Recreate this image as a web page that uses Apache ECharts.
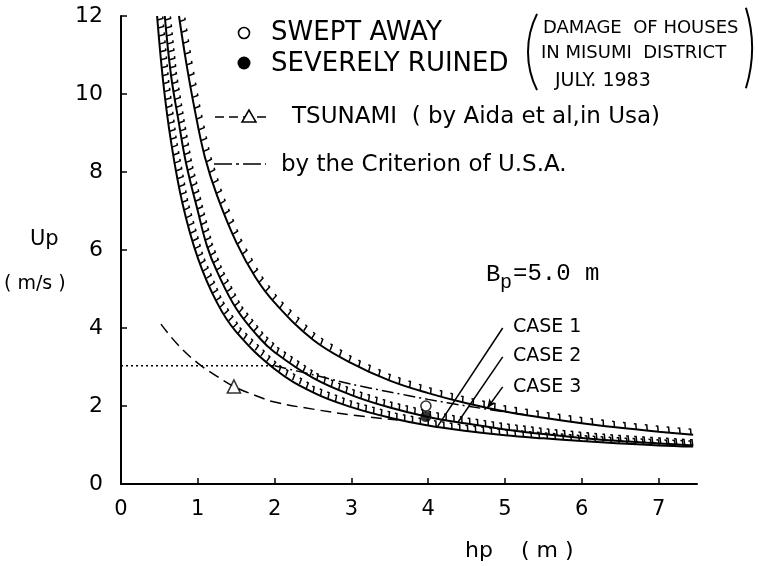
<!DOCTYPE html>
<html>
<head>
<meta charset="utf-8">
<script src="https://cdn.jsdelivr.net/npm/echarts@6/dist/echarts.min.js"></script>
<style>html,body{margin:0;background:#fff}#chart{width:759px;height:566px}</style>
</head>
<body>
<div id="chart"></div>
<script>
'use strict';
// hp (m) -> Up (m/s)
const case1 = [[0.47,12],[0.55,10.3],[0.65,8.8],[0.8,7.2],[1.0,5.8],[1.25,4.65],[1.5,3.9],[2.0,2.95],[2.5,2.35],[3.0,1.97],[3.5,1.7],[4.0,1.5],[4.5,1.36],[5.0,1.25],[5.5,1.17],[6.0,1.1],[6.5,1.04],[7.0,0.99],[7.45,0.96]];
const case2 = [[0.57,12],[0.65,10.5],[0.75,9.3],[0.85,8.2],[1.0,7.0],[1.12,6.1],[1.25,5.45],[1.5,4.5],[1.8,3.75],[2.0,3.38],[2.5,2.72],[3.0,2.28],[3.5,1.96],[4.0,1.72],[4.5,1.55],[5.0,1.4],[5.5,1.28],[6.0,1.18],[6.5,1.1],[7.0,1.04],[7.45,0.99]];
const case3 = [[0.755,12],[0.85,10.8],[0.96,9.6],[1.09,8.4],[1.25,7.4],[1.5,6.2],[1.75,5.3],[2.0,4.65],[2.5,3.7],[3.0,3.1],[3.5,2.65],[4.0,2.33],[4.5,2.07],[5.0,1.86],[5.5,1.7],[6.0,1.56],[6.5,1.44],[7.0,1.34],[7.45,1.26]];
const tsunami = [[0.52,4.1],[0.75,3.55],[1.0,3.1],[1.25,2.76],[1.47,2.5],[1.75,2.27],[2.0,2.1],[2.5,1.92],[3.0,1.77],[3.6,1.64]];
const tsunamiMark = [[1.47,2.5]];
const usaLevel = [[0,3.03],[2.0,3.03]];
const usaCurve = [[2.0,3.03],[2.5,2.8],[3.0,2.56],[3.5,2.36],[4.0,2.17],[4.5,2.0],[5.0,1.85],[5.25,1.78]];
const sweptAway = [[3.97,2.0]];
const severelyRuined = [[3.97,1.73]];
const xTicks = [0,1,2,3,4,5,6,7];
const yTicks = [0,2,4,6,8,10,12];
// pointer lines from the CASE labels to the curves
const casePointers = [
    [[4.97,4.0],[4.11,1.44]],
    [[4.97,3.26],[4.39,1.59]],
    [[4.97,2.49],[4.77,1.95]]
];

const FONT = 'DejaVu Sans';
const hatchCurves = [case1, case2, case3];
const hatchStep = [8, 8, 11];

// short hooked ticks on the upper/right side of each curve
const renderHatch = (params, api) => {
    const idx = api.value(0);
    const pts = hatchCurves[idx].map(p => api.coord(p));
    const step = hatchStep[idx];
    const children = [];
    let carry = step / 2;
    for (let i = 0; i < pts.length - 1; i++) {
        const [x0, y0] = pts[i];
        const [x1, y1] = pts[i + 1];
        const len = Math.hypot(x1 - x0, y1 - y0);
        const dx = (x1 - x0) / len, dy = (y1 - y0) / len;
        const nx = dy, ny = -dx;
        let s = carry;
        while (s < len) {
            const px = x0 + dx * s, py = y0 + dy * s;
            children.push({
                type: 'polyline',
                shape: {points: [[px, py], [px + nx * 5.5 - dx, py + ny * 5.5 - dy], [px + nx * 5.5 - dx * 3, py + ny * 5.5 - dy * 3]]},
                style: {stroke: '#000', lineWidth: 1.5, fill: null}
            });
            s += step;
        }
        carry = s - len;
    }
    return {type: 'group', children};
};

const solid = (name, data) => ({
    name, type: 'line', data, smooth: 0.4, symbol: 'none',
    lineStyle: {color: '#000', width: 2}, z: 3
});

const txt = (text, x, y, size, extra) => ({
    type: 'text', x, y,
    style: Object.assign({text, fill: '#000', font: `${size}px "${FONT}"`, textVerticalAlign: 'middle'}, extra || {})
});

const chart = echarts.init(document.getElementById('chart'));
chart.setOption({
    animation: false,
    backgroundColor: '#fff',
    grid: {left: 121, right: 62, top: 16, bottom: 82},
    xAxis: {
        type: 'value', min: 0, max: 7.5, interval: 1,
        axisLine: {lineStyle: {color: '#000', width: 2}},
        axisTick: {inside: true, length: 6, lineStyle: {color: '#000', width: 1.5}, customValues: xTicks.slice(1)},
        axisLabel: {color: '#000', fontSize: 21, fontFamily: FONT, margin: 15, customValues: xTicks},
        splitLine: {show: false}
    },
    yAxis: {
        type: 'value', min: 0, max: 12, interval: 2,
        axisLine: {show: true, lineStyle: {color: '#000', width: 2}},
        axisTick: {show: true, inside: true, length: 6, lineStyle: {color: '#000', width: 1.5}, customValues: yTicks.slice(1)},
        axisLabel: {color: '#000', fontSize: 22, fontFamily: FONT, margin: 18, customValues: yTicks},
        splitLine: {show: false}
    },
    series: [
        Object.assign(solid('CASE 1', case1), {
            markLine: {
                silent: true, symbol: ['none', 'none'],
                label: {show: false},
                lineStyle: {color: '#000', width: 1.5, type: 'solid'},
                data: [
                    [{coord: casePointers[0][0]}, {coord: casePointers[0][1]}],
                    [{coord: casePointers[1][0]}, {coord: casePointers[1][1]}],
                    [{coord: casePointers[2][0]}, {coord: casePointers[2][1], symbol: 'arrow', symbolSize: [6, 9]}]
                ]
            }
        }),
        solid('CASE 2', case2),
        solid('CASE 3', case3),
        {
            type: 'custom', name: 'hatch', renderItem: renderHatch, clip: true,
            data: [[0], [1], [2]], z: 3, silent: true
        },
        {
            name: 'TSUNAMI', type: 'line', data: tsunami, smooth: 0.4, symbol: 'none',
            lineStyle: {color: '#000', width: 1.5, type: [11, 6]}
        },
        {
            name: 'TSUNAMI mark', type: 'scatter', data: tsunamiMark, symbol: 'triangle', symbolSize: 13,
            itemStyle: {color: '#fff', borderColor: '#000', borderWidth: 1.6}, z: 5
        },
        {
            name: 'level', type: 'line', data: usaLevel, symbol: 'none',
            lineStyle: {color: '#000', width: 1.5, type: [2, 3]}
        },
        {
            name: 'U.S.A.', type: 'line', data: usaCurve, smooth: 0.3, symbol: 'none',
            lineStyle: {color: '#000', width: 1.5, type: [12, 4, 2, 4]}
        },
        {
            name: 'SWEPT AWAY', type: 'scatter', data: sweptAway, symbol: 'circle', symbolSize: 10,
            itemStyle: {color: '#fff', borderColor: '#000', borderWidth: 1.6}, z: 6
        },
        {
            name: 'SEVERELY RUINED', type: 'scatter', data: severelyRuined, symbol: 'circle', symbolSize: 11,
            itemStyle: {color: '#000'}, z: 6
        }
    ],
    graphic: [
        // axis names
        txt('Up', 30, 240, 21),
        txt('( m/s )', 4, 284, 19),
        txt('hp    ( m )', 465, 551, 22),
        // legend: markers
        {type: 'circle', shape: {cx: 244, cy: 33, r: 5.5}, style: {fill: '#fff', stroke: '#000', lineWidth: 1.6}},
        {type: 'circle', shape: {cx: 244, cy: 63, r: 6.5}, style: {fill: '#000'}},
        txt('SWEPT AWAY', 271, 33, 26),
        txt('SEVERELY RUINED', 271, 64, 26),
        // bracketed note
        {type: 'arc', shape: {cx: 613, cy: 52, r: 85, startAngle: Math.PI - 0.465, endAngle: Math.PI + 0.465}, style: {stroke: '#000', lineWidth: 2, fill: null}},
        {type: 'arc', shape: {cx: 616, cy: 48, r: 136, startAngle: -0.3, endAngle: 0.3}, style: {stroke: '#000', lineWidth: 2, fill: null}},
        txt('DAMAGE  OF HOUSES', 543, 28, 18),
        txt('IN MISUMI  DISTRICT', 541, 53, 18),
        txt('JULY. 1983', 555, 81, 19),
        // tsunami legend
        {type: 'line', shape: {x1: 215, y1: 117, x2: 270, y2: 117}, style: {stroke: '#000', lineWidth: 1.5, lineDash: [9, 5]}},
        {type: 'polygon', shape: {points: [[249, 110], [242, 122], [256, 122]]}, style: {fill: '#fff', stroke: '#000', lineWidth: 1.5}},
        txt('TSUNAMI  ( by Aida et al,in Usa)', 292, 117, 23),
        // U.S.A. legend
        {type: 'line', shape: {x1: 214, y1: 164, x2: 266, y2: 164}, style: {stroke: '#000', lineWidth: 1.5, lineDash: [18, 4, 3, 4]}},
        txt('by the Criterion of U.S.A.', 281, 165, 23),
        // Bp
        txt('B', 486, 275, 24, {font: '24px "Liberation Mono"'}),
        txt('p', 500, 283, 20, {font: '20px "Liberation Mono"'}),
        txt('=5.0 m', 513, 274, 24, {font: '24px "Liberation Mono"'}),
        // case labels
        txt('CASE 1', 513, 327, 19),
        txt('CASE 2', 513, 356, 19),
        txt('CASE 3', 513, 387, 19)
    ]
});
</script>
</body>
</html>
